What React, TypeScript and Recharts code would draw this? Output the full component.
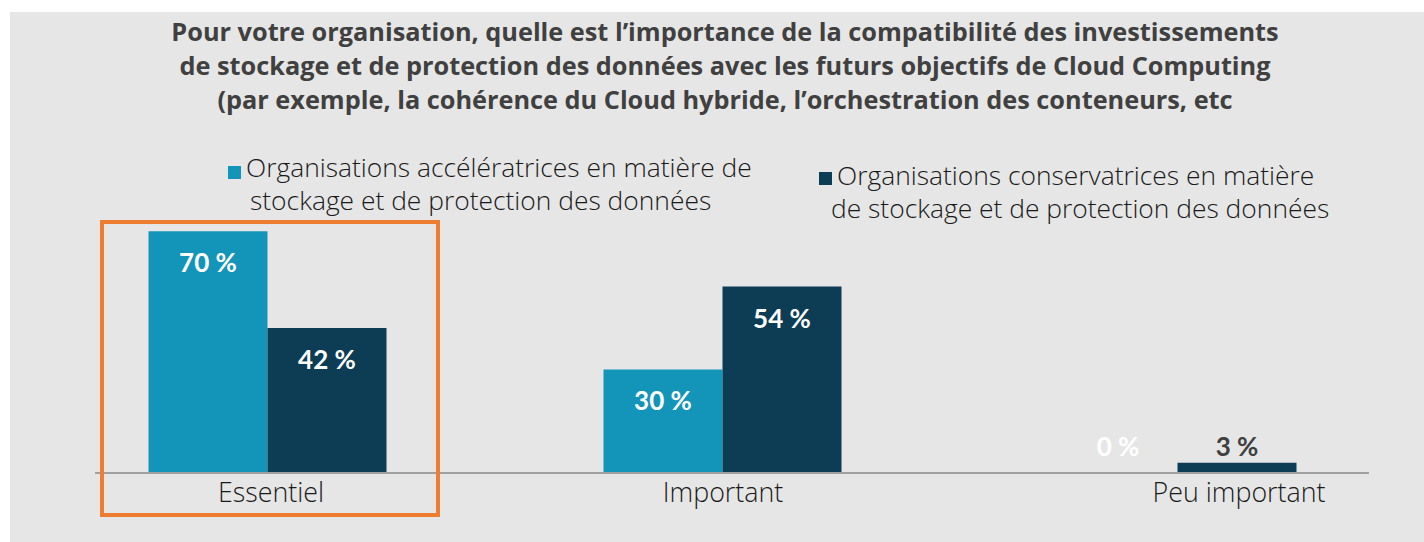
import React from "react";
import { BarChart, Bar, XAxis, YAxis, LabelList, Legend } from "recharts";

// données
const categories = ["Essentiel", "Important", "Peu important"];
const accelerateurs = [70, 30, 0];
const conservateurs = [42, 54, 3];

const serie1Label = ["Organisations accélératrices en matière de", "stockage et de protection des données"];
const serie2Label = ["Organisations conservatrices en matière", "de stockage et de protection des données"];

const titleLines = [
  "Pour votre organisation, quelle est l’importance de la compatibilité des investissements",
  "de stockage et de protection des données avec les futurs objectifs de Cloud Computing",
  "(par exemple, la cohérence du Cloud hybride, l’orchestration des conteneurs, etc",
];

const data = categories.map((c, i) => ({
  category: c,
  acc: accelerateurs[i],
  cons: conservateurs[i],
}));

const LIGHT = "#1395ba";
const DARK = "#0d3c55";
const BG = "#e6e6e6";
const LABEL_FONT = "Lato, 'Open Sans', sans-serif";
const TEXT_FONT = "'Open Sans', Lato, sans-serif";

// petit décalage du libellé "Peu important" comme dans l'original
const tickShift: Record<string, number> = { Essentiel: 4, Important: 1, "Peu important": 62 };

const CategoryTick = (props: any) => {
  const { x, y, payload } = props;
  return (
    <text
      x={x + (tickShift[payload.value] || 0)}
      y={y + 29}
      textAnchor="middle"
      fill="#1a1a1a"
      style={{ fontFamily: TEXT_FONT, fontWeight: 300, fontSize: 26.8 }}
    >
      {payload.value}
    </text>
  );
};

const makeLabel = (outsideColor: string) => (props: any) => {
  const { x, y, width, height, value } = props;
  const inside = height > 40;
  const cy = inside ? y + 31 : y + height - 27;
  return (
    <text
      x={x + width / 2}
      y={cy}
      textAnchor="middle"
      dominantBaseline="central"
      fill={inside ? "#ffffff" : outsideColor}
      style={{ fontFamily: LABEL_FONT, fontWeight: 700, fontSize: 26 }}
    >
      {`${value} %`}
    </text>
  );
};

const legendText = { fontFamily: TEXT_FONT, fontWeight: 300, fontSize: 26.4 };

const LegendContent = () => (
  <svg width={1414} height={230}>
    <rect x={218} y={154} width={13} height={13} fill={LIGHT} />
    <text style={legendText} fill="#1a1a1a">
      <tspan x={236} y={165}>{serie1Label[0]}</tspan>
      <tspan x={240} y={198}>{serie1Label[1]}</tspan>
    </text>
    <rect x={809} y={160} width={13} height={13} fill={DARK} />
    <text style={legendText} fill="#1a1a1a">
      <tspan x={827} y={173}>{serie2Label[0]}</tspan>
      <tspan x={821} y={206}>{serie2Label[1]}</tspan>
    </text>
  </svg>
);

export default function App() {
  return (
    <div style={{ position: "fixed", left: 10, top: 12, width: 1414, height: 530, background: BG }}>
      <div
        style={{
          position: "absolute",
          left: 0,
          top: 2,
          width: 1430,
          textAlign: "center",
          fontFamily: TEXT_FONT,
          fontWeight: 700,
          fontSize: 25.3,
          lineHeight: "34px",
          color: "#404040",
        }}
      >
        {titleLines.map((l) => (
          <div key={l}>{l}</div>
        ))}
      </div>

      <BarChart
        width={1414}
        height={530}
        data={data}
        margin={{ top: 115.7, left: 85, right: 55, bottom: 29 }}
        barGap={0}
      >
        <YAxis hide domain={[0, 100]} />
        <Legend
          layout="vertical"
          align="center"
          verticalAlign="middle"
          content={LegendContent}
          wrapperStyle={{ left: 0, top: 0, width: 1414, height: 230 }}
        />
        <Bar dataKey="acc" fill={LIGHT} barSize={119} minPointSize={1} isAnimationActive={false}>
          <LabelList dataKey="acc" content={makeLabel("#ffffff")} />
        </Bar>
        <Bar dataKey="cons" fill={DARK} barSize={119} isAnimationActive={false}>
          <LabelList dataKey="cons" content={makeLabel("#404040")} />
        </Bar>
        <XAxis
          dataKey="category"
          height={40}
          interval={0}
          tickLine={false}
          tickSize={0}
          tickMargin={0}
          axisLine={{ stroke: "#a0a0a0", strokeWidth: 2 }}
          padding={{ left: -55.5, right: -35.5 }}
          tick={<CategoryTick />}
        />
      </BarChart>

      {/* cadre orange autour de "Essentiel" */}
      <div
        style={{
          position: "absolute",
          left: 89.5,
          top: 208,
          width: 340.5,
          height: 296.5,
          border: "4px solid #ed7d31",
          boxSizing: "border-box",
          pointerEvents: "none",
        }}
      />
    </div>
  );
}
